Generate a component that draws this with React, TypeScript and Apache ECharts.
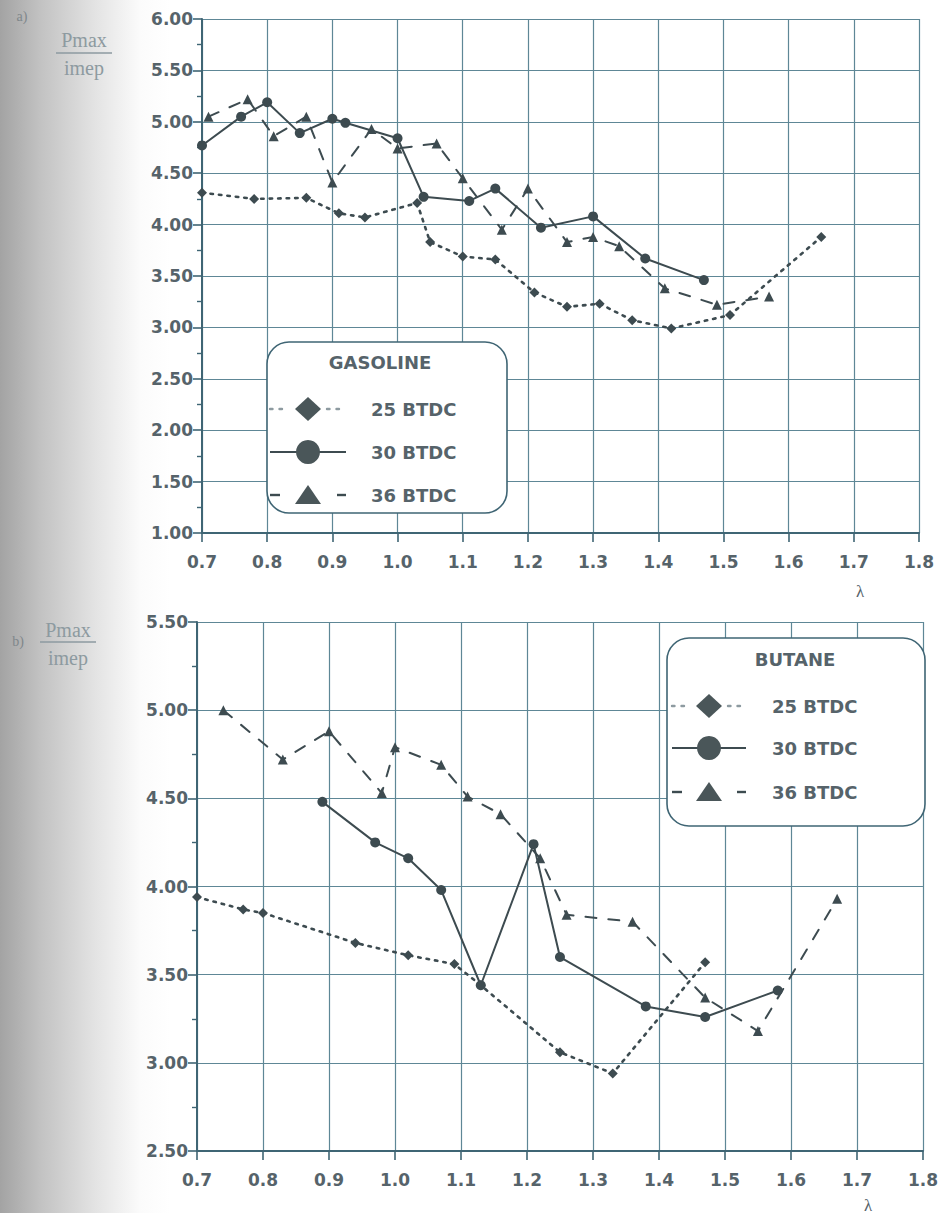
import React, { useEffect, useRef } from "react";
import * as echarts from "echarts";

// λ (air excess ratio) vs Pmax / imep, for three ignition timings
const lambdaTicks = [0.7, 0.8, 0.9, 1.0, 1.1, 1.2, 1.3, 1.4, 1.5, 1.6, 1.7, 1.8];

// a) gasoline
const gas25: [number, number][] = [
  [0.70, 4.31], [0.78, 4.25], [0.86, 4.26], [0.91, 4.11], [0.95, 4.07], [1.03, 4.21],
  [1.05, 3.83], [1.10, 3.69], [1.15, 3.66], [1.21, 3.34], [1.26, 3.20], [1.31, 3.23],
  [1.36, 3.07], [1.42, 2.99], [1.51, 3.12], [1.65, 3.88],
];
const gas30: [number, number][] = [
  [0.70, 4.77], [0.76, 5.05], [0.80, 5.19], [0.85, 4.89], [0.90, 5.03], [0.92, 4.99],
  [1.00, 4.84], [1.04, 4.27], [1.11, 4.23], [1.15, 4.35], [1.22, 3.97], [1.30, 4.08],
  [1.38, 3.67], [1.47, 3.46],
];
const gas36: [number, number][] = [
  [0.71, 5.05], [0.77, 5.22], [0.81, 4.86], [0.86, 5.05], [0.90, 4.41], [0.96, 4.93],
  [1.00, 4.74], [1.06, 4.79], [1.10, 4.45], [1.16, 3.95], [1.20, 4.35], [1.26, 3.83],
  [1.30, 3.88], [1.34, 3.79], [1.41, 3.38], [1.49, 3.22], [1.57, 3.30],
];

// b) butane
const but25: [number, number][] = [
  [0.70, 3.94], [0.77, 3.87], [0.80, 3.85], [0.94, 3.68], [1.02, 3.61], [1.09, 3.56],
  [1.13, 3.44], [1.25, 3.06], [1.33, 2.94], [1.47, 3.57],
];
const but30: [number, number][] = [
  [0.89, 4.48], [0.97, 4.25], [1.02, 4.16], [1.07, 3.98], [1.13, 3.44], [1.21, 4.24],
  [1.25, 3.60], [1.38, 3.32], [1.47, 3.26], [1.58, 3.41],
];
const but36: [number, number][] = [
  [0.74, 5.00], [0.83, 4.72], [0.90, 4.88], [0.98, 4.53], [1.00, 4.79], [1.07, 4.69],
  [1.11, 4.51], [1.16, 4.41], [1.22, 4.16], [1.26, 3.84], [1.36, 3.80], [1.47, 3.37],
  [1.55, 3.18], [1.67, 3.93],
];

const seriesNames = ["25 BTDC", "30 BTDC", "36 BTDC"];
const panelTitles = ["GASOLINE", "BUTANE"];
const panelLetters = ["a)", "b)"];
const yRanges = [
  { min: 1.0, max: 6.0 },
  { min: 2.5, max: 5.5 },
];

const INK = "#3d4b50";
const GRID = "#5e8796";
const AXIS = "#3f6574";
const TEXT = "#56636a";
const FAINT = "#8d9aa0";
const SANS = '"DejaVu Sans", "Liberation Sans", Arial, sans-serif';
const SERIF = '"Liberation Serif", "DejaVu Serif", serif';

const dotted = [2.5, 6];
const dashed = [11, 12];

function lineSeries(
  name: string,
  data: [number, number][],
  idx: number,
  kind: 0 | 1 | 2
) {
  const symbol = ["diamond", "circle", "triangle"][kind];
  const size = [10, 10, 10][kind];
  const type = [dotted, "solid", dashed][kind];
  const width = [2.6, 2, 2][kind];
  return {
    name,
    type: "line",
    xAxisIndex: idx,
    yAxisIndex: idx,
    data,
    symbol,
    symbolSize: size,
    showSymbol: true,
    z: kind === 1 ? 4 : 3,
    lineStyle: { color: INK, width, type, cap: "round" },
    itemStyle: { color: INK, borderWidth: 0 },
    emphasis: { disabled: true },
  };
}

function text(x: number, y: number, str: string, font: string, fill: string, align = "left") {
  return {
    type: "text",
    x,
    y,
    silent: true,
    z: 20,
    style: {
      text: str,
      font,
      fill,
      align,
      textAlign: align,
      verticalAlign: "middle",
      textVerticalAlign: "middle",
    },
  };
}

// rounded legend box with title and the three sample lines
function legendBox(
  left: number,
  top: number,
  w: number,
  h: number,
  title: string,
  titleX: number,
  titleY: number,
  rows: number[],
  symX: number,
  half: number,
  textX: number
) {
  const els: any[] = [];
  els.push({
    type: "rect",
    z: 15,
    silent: true,
    shape: { x: left, y: top, width: w, height: h, r: 22 },
    style: { fill: "#ffffff", stroke: AXIS, lineWidth: 1.6 },
  });
  els.push(text(titleX, titleY, title, `bold 18px ${SANS}`, TEXT, "center"));
  const symStyle = { fill: "#4a5659", stroke: "#4a5659", lineWidth: 0 };
  const gap = 19;
  // 25 BTDC: dotted + diamond
  els.push({
    type: "line", z: 16, silent: true,
    shape: { x1: symX - half, y1: rows[0], x2: symX - gap, y2: rows[0] },
    style: { stroke: FAINT, lineWidth: 2.4, lineDash: [2.5, 7], lineCap: "round" },
  });
  els.push({
    type: "line", z: 16, silent: true,
    shape: { x1: symX + gap, y1: rows[0], x2: symX + half, y2: rows[0] },
    style: { stroke: FAINT, lineWidth: 2.4, lineDash: [2.5, 7], lineCap: "round" },
  });
  els.push({
    type: "polygon", z: 17, silent: true,
    shape: { points: [[symX - 13, rows[0]], [symX, rows[0] - 12], [symX + 13, rows[0]], [symX, rows[0] + 12]] },
    style: symStyle,
  });
  // 30 BTDC: solid + circle
  els.push({
    type: "line", z: 16, silent: true,
    shape: { x1: symX - half, y1: rows[1], x2: symX + half, y2: rows[1] },
    style: { stroke: INK, lineWidth: 2.2 },
  });
  els.push({
    type: "circle", z: 17, silent: true,
    shape: { cx: symX, cy: rows[1], r: 12 },
    style: symStyle,
  });
  // 36 BTDC: dashed + triangle
  els.push({
    type: "line", z: 16, silent: true,
    shape: { x1: symX - half, y1: rows[2], x2: symX - half + 10, y2: rows[2] },
    style: { stroke: INK, lineWidth: 2.4 },
  });
  els.push({
    type: "line", z: 16, silent: true,
    shape: { x1: symX + half - 9, y1: rows[2], x2: symX + half, y2: rows[2] },
    style: { stroke: INK, lineWidth: 2.4 },
  });
  els.push({
    type: "polygon", z: 17, silent: true,
    shape: { points: [[symX - 13, rows[2] + 9], [symX, rows[2] - 10], [symX + 13, rows[2] + 9]] },
    style: symStyle,
  });
  seriesNames.forEach((n, i) => {
    els.push(text(textX, rows[i], n, `bold 18px ${SANS}`, TEXT));
  });
  return els;
}

// y-axis quantity written as a fraction
function fractionLabel(x: number, yTop: number, yLine: number, yBottom: number, letter: string, letterX: number, letterY: number) {
  return [
    text(letterX, letterY, letter, `14px ${SERIF}`, "#7f878b", "center"),
    text(x, yTop, "Pmax", `20px ${SERIF}`, FAINT, "center"),
    {
      type: "line", silent: true, z: 20,
      shape: { x1: x - 28, y1: yLine, x2: x + 28, y2: yLine },
      style: { stroke: FAINT, lineWidth: 1.3 },
    },
    text(x, yBottom, "imep", `20px ${SERIF}`, FAINT, "center"),
  ];
}

export default function App() {
  const ref = useRef<HTMLDivElement>(null);

  useEffect(() => {
    if (!ref.current) return;
    const chart = echarts.init(ref.current, undefined, { renderer: "svg" });

    const grids = [
      { left: 202, top: 19, width: 717, height: 514 },
      { left: 197, top: 622, width: 729, height: 529 },
    ];

    const xAxes = [0, 1].map((i) => ({
      type: "value",
      gridIndex: i,
      min: lambdaTicks[0],
      max: lambdaTicks[lambdaTicks.length - 1],
      interval: 0.1,
      axisLine: { show: true, onZero: false, lineStyle: { color: AXIS, width: 2 } },
      axisTick: { show: true, length: 9, lineStyle: { color: AXIS, width: 1.6 } },
      axisLabel: {
        margin: 20,
        color: TEXT,
        fontFamily: SANS,
        fontWeight: "bold",
        fontSize: 17,
        formatter: (v: number) => v.toFixed(1),
      },
      splitLine: { show: true, lineStyle: { color: GRID, width: 1.2 } },
    }));

    const yAxes = [0, 1].map((i) => ({
      type: "value",
      gridIndex: i,
      min: yRanges[i].min,
      max: yRanges[i].max,
      interval: 0.5,
      axisLine: { show: true, onZero: false, lineStyle: { color: AXIS, width: 2 } },
      axisTick: { show: true, length: 9, lineStyle: { color: AXIS, width: 1.6 } },
      minorTick: { show: true, splitNumber: 2, length: 5, lineStyle: { color: AXIS, width: 1.4 } },
      axisLabel: {
        margin: 9,
        color: TEXT,
        fontFamily: SANS,
        fontWeight: "bold",
        fontSize: 17,
        formatter: (v: number) => v.toFixed(2),
      },
      splitLine: { show: true, lineStyle: { color: GRID, width: 1.2 } },
    }));

    const series = [
      lineSeries(seriesNames[2], gas36, 0, 2),
      lineSeries(seriesNames[0], gas25, 0, 0),
      lineSeries(seriesNames[1], gas30, 0, 1),
      lineSeries(seriesNames[2], but36, 1, 2),
      lineSeries(seriesNames[0], but25, 1, 0),
      lineSeries(seriesNames[1], but30, 1, 1),
    ];

    const graphic = [
      ...fractionLabel(84, 40, 53, 68, panelLetters[0], 22, 16, ),
      ...fractionLabel(68, 630, 642, 658, panelLetters[1], 18, 641),
      text(860, 591, "λ", `17px ${SERIF}`, TEXT, "center"),
      text(868, 1205, "λ", `17px ${SERIF}`, TEXT, "center"),
      ...legendBox(267, 342, 240, 171, panelTitles[0], 380, 362, [409, 452, 495], 308, 38, 371),
      ...legendBox(667, 638, 258, 188, panelTitles[1], 795, 659, [706, 748, 792], 709, 37, 772),
    ];

    chart.setOption({
      animation: false,
      backgroundColor: "transparent",
      grid: grids,
      xAxis: xAxes,
      yAxis: yAxes,
      series,
      graphic,
    });

    return () => chart.dispose();
  }, []);

  return (
    <div
      style={{
        position: "absolute",
        left: 0,
        top: 0,
        width: 941,
        height: 1213,
        overflow: "hidden",
        background:
          "linear-gradient(to right, #a3a3a3 0px, #c2c2c2 40px, #e3e3e3 95px, #fbfbfb 140px, #ffffff 170px)",
      }}
    >
      <div ref={ref} style={{ width: 941, height: 1213 }} />
    </div>
  );
}
